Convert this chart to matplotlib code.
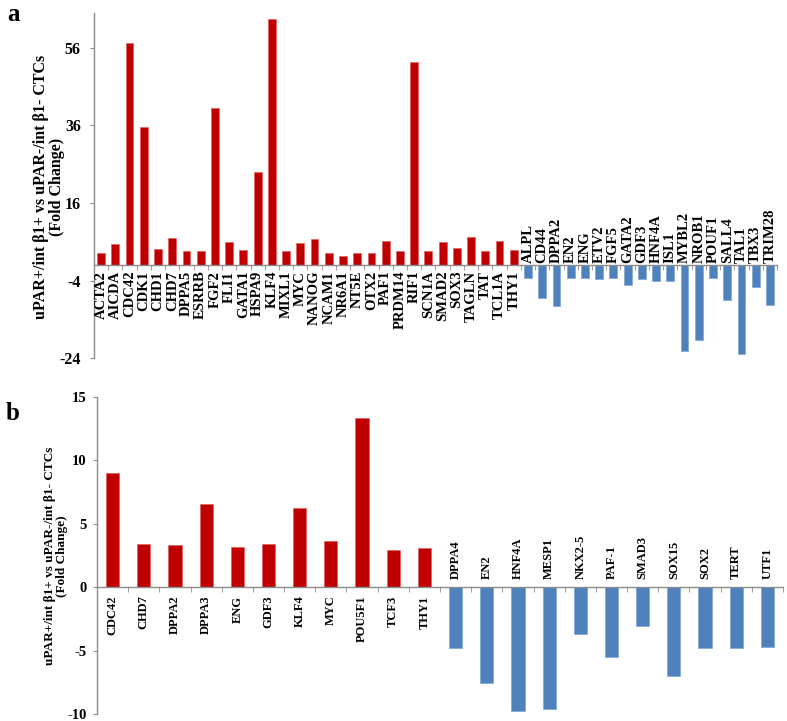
import matplotlib
matplotlib.use("Agg")
import matplotlib.pyplot as plt
import numpy as np

plt.rcParams['font.family'] = ['Liberation Serif', 'DejaVu Serif']
plt.rcParams['font.weight'] = 'bold'

# Panel a data
a_up_genes = ["ACTA2", "AICDA", "CDC42", "CDK1", "CHD1", "CHD7", "DPPA5", "ESRRB", "FGF2", "FLI1",
              "GATA1", "HSPA9", "KLF4", "MIXL1", "MYC", "NANOG", "NCAM1", "NR6A1", "NT5E", "OTX2",
              "PAF1", "PRDM14", "RIF1", "SCN1A", "SMAD2", "SOX3", "TAGLN", "TAT", "TCL1A", "THY1"]
a_up_vals = [3.2, 5.4, 57.1, 35.6, 4.2, 6.9, 3.7, 3.5, 40.5, 5.9,
             3.9, 24.0, 63.3, 3.7, 5.6, 6.7, 3.2, 2.4, 3.2, 3.2,
             6.3, 3.7, 52.4, 3.5, 6.0, 4.4, 7.3, 3.7, 6.3, 3.9]
a_down_genes = ["ALPL", "CD44", "DPPA2", "EN2", "ENG", "ETV2", "FGF5", "GATA2", "GDF3", "HNF4A",
                "ISL1", "MYBL2", "NROB1", "POUF1", "SALL4", "TAL1", "TBX3", "TRIM28"]
a_down_vals = [-3.2, -8.4, -10.5, -3.4, -3.2, -3.6, -3.2, -5.0, -3.5, -4.1,
               -4.1, -22.0, -19.4, -3.2, -9.0, -23.0, -5.7, -10.3]
a_yticks = [-24, -4, 16, 36, 56]

# Panel b data
b_up_genes = ["CDC42", "CHD7", "DPPA2", "DPPA3", "ENG", "GDF3", "KLF4", "MYC", "POU5F1", "TCF3", "THY1"]
b_up_vals = [9.02, 3.43, 3.3, 6.56, 3.12, 3.43, 6.27, 3.6, 13.36, 2.94, 3.04]
b_down_genes = ["DPPA4", "EN2", "HNF4A", "MESP1", "NKX2-5", "PAF-1", "SMAD3", "SOX15", "SOX2", "TERT", "UTF1"]
b_down_vals = [-4.83, -7.56, -9.77, -9.58, -3.68, -5.51, -3.07, -6.98, -4.83, -4.83, -4.75]
b_yticks = [-10, -5, 0, 5, 10, 15]

RED = "#C00000"
BLUE = "#4F81BD"
AXC = "#8C8C8C"
ylabel = "uPAR+/int \u03b21+ vs uPAR-/int \u03b21- CTCs\n(Fold Change)"

W, H = 787, 721
fig = plt.figure(figsize=(W / 100, H / 100), dpi=100)


def panel(rect, up_genes, up_vals, down_genes, down_vals, yticks, ylim, width, fs, tickfs, pad,
          off_dn, off_up):
    ax = fig.add_axes(rect)
    n_up = len(up_genes)
    x_up = np.arange(n_up)
    x_dn = np.arange(n_up, n_up + len(down_genes))
    ax.bar(x_up, up_vals, width=width, color=RED, edgecolor="#E06060", linewidth=0.5)
    ax.bar(x_dn, down_vals, width=width, color=BLUE, edgecolor="#7FA6D6", linewidth=0.5)
    n = n_up + len(down_genes)
    ax.set_xlim(-0.5, n - 0.5)
    ax.set_ylim(*ylim)
    for s in ["top", "right"]:
        ax.spines[s].set_visible(False)
    ax.spines["bottom"].set_position(("data", 0))
    for s in ["left", "bottom"]:
        ax.spines[s].set_color(AXC)
        ax.spines[s].set_linewidth(1.0)
    ax.set_yticks(yticks)
    ax.set_yticklabels([str(t) for t in yticks], fontsize=tickfs, fontweight="bold")
    ax.tick_params(axis="y", direction="out", length=3, color=AXC, pad=pad)
    ax.set_xticks([])
    ax.set_xticks(np.arange(-0.5, n, 1.0), minor=True)
    ax.tick_params(axis="x", which="minor", direction="out", length=3.5, color=AXC)
    ax.tick_params(axis="x", which="major", length=0)
    for xi, g in zip(x_up, up_genes):
        ax.annotate(g, xy=(xi, 0), xytext=(0, -off_dn), textcoords="offset points",
                    rotation=90, ha="center", va="top", fontsize=fs, fontweight="bold")
    for xi, g in zip(x_dn, down_genes):
        ax.annotate(g, xy=(xi, 0), xytext=(0, off_up), textcoords="offset points",
                    rotation=90, ha="center", va="bottom", fontsize=fs, fontweight="bold")
    return ax


ax1 = panel([94 / W, 1 - 358.3 / H, (777 - 94) / W, (358.3 - 13) / H],
            a_up_genes, a_up_vals, a_down_genes, a_down_vals, a_yticks, (-24, 64.9),
            0.55, 10.5, 11.5, 6.5, 4, 1.5)
ax2 = panel([97 / W, 1 - 714 / H, (783 - 97) / W, (714 - 396.7) / H],
            b_up_genes, b_up_vals, b_down_genes, b_down_vals, b_yticks, (-10, 15),
            0.42, 9, 10.5, 4.3, 6, 6)

fig.text(49 / W, 1 - 187 / H, ylabel, rotation=90, ha="center", va="center",
         fontsize=11.5, fontweight="bold", linespacing=0.95)
fig.text(56 / W, 1 - 556 / H, ylabel, rotation=90, ha="center", va="center",
         fontsize=9.5, fontweight="bold", linespacing=1.05)
fig.text(13 / W, 1 - 3 / H, "a", ha="center", va="top", fontsize=18, fontweight="bold")
fig.text(13 / W, 1 - 413 / H, "b", ha="center", va="center", fontsize=18, fontweight="bold")

fig.savefig("out.png", dpi=100)
